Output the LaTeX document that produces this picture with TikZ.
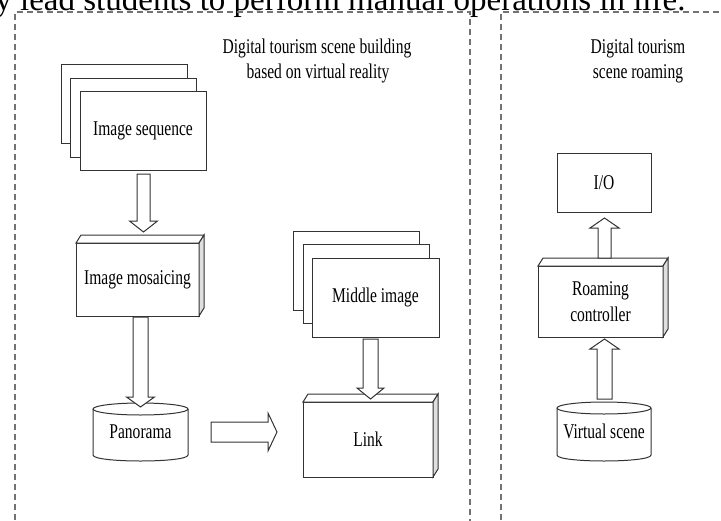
\documentclass[tikz,border=0pt]{standalone}
\usepackage{fontspec}
\setmainfont{Liberation Serif}
\newfontfamily\diagfont[FakeStretch=0.74]{Liberation Serif}
\usetikzlibrary{calc}
\tikzset{
  frame/.style={draw=black!55, line width=1.2pt, dash pattern=on 6pt off 4pt},
  diagtext/.style={font=\diagfont\fontsize{21}{26}\selectfont},
  card/.style={draw=black!80, line width=1pt, fill=white, inner sep=0pt, outer sep=0pt, diagtext, align=center},
  cyltext/.style={inner sep=0pt, outer sep=0pt, diagtext},
  lbl/.style={diagtext, inner sep=0pt, anchor=base},
  barrow/.style={draw=black!80, line width=1pt, fill=white, line join=miter},
  face/.style={draw=black!80, line width=1pt, line join=miter},
}
% block arrow: from, to, shaft half width, head half width, head length
\newcommand\blockarr[5]{%
  \path let \p1=(#1), \p2=(#2), \n1={atan2(\y2-\y1,\x2-\x1)}, \n2={veclen(\x2-\x1,\y2-\y1)} in
    \pgfextra{\xdef\baang{\n1}\xdef\balen{\n2}\xdef\bax{\x1}\xdef\bay{\y1}};
  \begin{scope}[shift={(\bax,\bay)}, rotate=\baang]
    \draw[barrow] (0,#3) -- ({\balen-#5},#3) -- ({\balen-#5},#4) -- (\balen,0)
      -- ({\balen-#5},-#4) -- ({\balen-#5},-#3) -- (0,-#3) -- cycle;
  \end{scope}
}
% 3D slab faces for a card node
\newcommand\slab[1]{%
  \draw[face, fill=white] (#1.north west) -- ++(5,-8) -- ($(#1.north east)+(5,-8)$) -- (#1.north east) -- cycle;
  \draw[face, fill=gray!25] (#1.north east) -- ++(5,-8) -- ($(#1.south east)+(5,-8)$) -- (#1.south east) -- cycle;
}
% cylinder around a node: name, x radius
\newcommand\cyl[2]{%
  \draw[face] (#1.north west) -- (#1.south west) .. controls +(0,8) and +(0,8) .. (#1.south east) -- (#1.north east);
  \draw[face] (#1.north) ellipse [x radius=#2, y radius=6];
}
\begin{document}
\begin{tikzpicture}[x=1pt,y=-1pt]
\useasboundingbox (0,0) rectangle (721,520);
\clip (0,0) rectangle (721,520);
\fill[white] (0,0) rectangle (721,520);

% cut-off page text
\node[anchor=base west, inner sep=0pt, font=\fontsize{33}{40}\selectfont] (pagetext) at (-14,10)
  {ly lead students to perform manual operations in life.};

% dashed frames
\draw[frame] (15,540) -- (15,12) -- (470,12) -- (470,540);
\draw[frame] (501,540) -- (501,12) -- (740,12);

% titles
\node[lbl] (t1a) at (317,53) {Digital tourism scene building};
\node[lbl] (t1b) at (318,78) {based on virtual reality};
\node[lbl] (t2a) at (638,53) {Digital tourism};
\node[lbl] (t2b) at (638,78) {scene roaming};

% image sequence stack
\node[card, minimum width=126pt, minimum height=79pt] (seqback) at (124,104) {};
\node[card, minimum width=126pt, minimum height=79pt] (seqmid) at (133.5,117.5) {};
\node[card, minimum width=126pt, minimum height=79pt] (seq) at (143,130.5) {Image sequence};

% image mosaicing slab
\node[card, minimum width=123pt, minimum height=73pt] (mosaic) at (137.5,279.5) {Image mosaicing};
\slab{mosaic}

% panorama cylinder
\node[cyltext, minimum width=95pt, minimum height=46pt] (pano) at (140.5,432) {Panorama};
\cyl{pano}{47.5}

% middle image stack
\node[card, minimum width=126pt, minimum height=79pt] (midback) at (356,271) {};
\node[card, minimum width=126pt, minimum height=79pt] (midmid) at (366,284) {};
\node[card, minimum width=127pt, minimum height=79pt] (mid) at (375.5,297.5) {Middle image};

% link slab
\node[card, minimum width=130pt, minimum height=75pt] (link) at (368,439.5) {Link};
\slab{link}

% right column
\node[card, minimum width=94pt, minimum height=59pt] (io) at (604,182.5) {I/O};
\node[card, minimum width=125pt, minimum height=71pt] (ctrl) at (600.5,301.5) {Roaming\\controller};
\slab{ctrl}
\node[cyltext, minimum width=94pt, minimum height=47pt] (virt) at (604,431.5) {Virtual scene};
\cyl{virt}{47}

% block arrows
\blockarr{$(seq.south)+(0.5,4)$}{$(seq.south |- mosaic.north)+(0.5,-11)$}{6.5}{14}{11}
\blockarr{$(pano.north |- mosaic.south)+(0,1)$}{$(pano.north)+(0,-2)$}{7.5}{14}{10}
\blockarr{$(pano.east)+(23,0)$}{$(pano.east -| link.west)+(-26,0)$}{10}{19}{9}
\blockarr{$(mid.south)+(-5,2)$}{$(mid.south |- link.north)+(-5,-3)$}{7.5}{13.5}{11}
\blockarr{$(io.south)+(0.5,46)$}{$(io.south)+(0.5,6)$}{6.5}{14.5}{10}
\blockarr{$(virt.north)+(0.5,-9)$}{$(virt.north |- ctrl.south)+(0.5,2)$}{7.5}{14.5}{10}
\end{tikzpicture}
\end{document}
